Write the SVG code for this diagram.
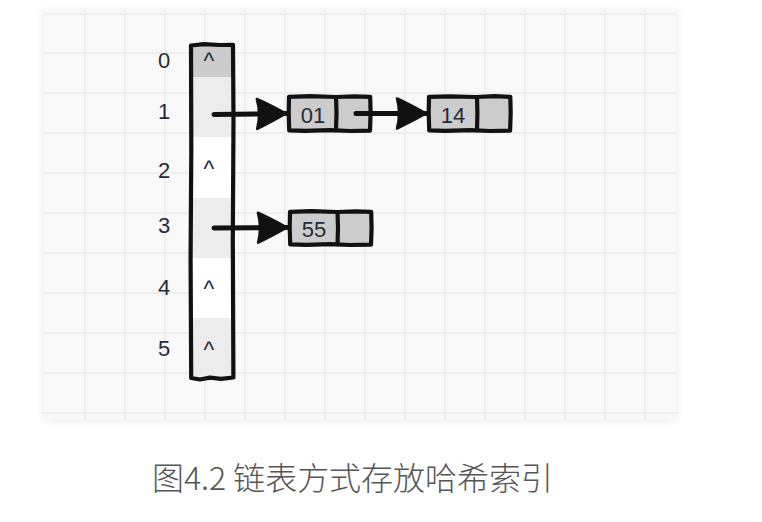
<svg xmlns="http://www.w3.org/2000/svg" width="762" height="522" viewBox="0 0 762 522">
  <style>
    .grid line { stroke: #eeeeee; stroke-width: 2.2; }
    .idx { font-family: "Liberation Sans", Arial, sans-serif; font-size: 22px; fill: #272a3a; text-anchor: middle; }
    .caret { font-family: "Liberation Sans", Arial, sans-serif; font-size: 23px; fill: #272a3a; text-anchor: middle; }
    .val { font-family: "Liberation Sans", Arial, sans-serif; font-size: 22px; fill: #272a3a; text-anchor: middle; }
    .sketch { fill: none; stroke: #111111; stroke-width: 4.2; stroke-linejoin: round; stroke-linecap: round; }
    .cell { fill: #cccccc; }
    .conn { fill: none; stroke: #111111; stroke-width: 5; stroke-linecap: round; }
    .caption { font-family: "Noto Sans CJK SC", "Noto Sans", sans-serif; font-size: 32px; font-weight: 300; fill: #555555; }
  </style>
  <defs>
    <filter id="shadow" x="-10%" y="-10%" width="120%" height="120%">
      <feDropShadow dx="0" dy="1" stdDeviation="5" flood-color="#000000" flood-opacity="0.09"/>
    </filter>
    <clipPath id="cardclip">
      <rect x="44" y="10" width="632" height="409" rx="4"/>
    </clipPath>
    <marker id="head" markerUnits="userSpaceOnUse" markerWidth="34" markerHeight="34" viewBox="0 0 34 34" refX="31" refY="17" orient="auto">
      <path d="M2,2 Q15,8 31,17 Q15,26 2,32 Q6,17 2,2 Z" fill="#111111" stroke="#111111" stroke-width="2.5" stroke-linejoin="round"/>
    </marker>
  </defs>

  <rect width="762" height="522" fill="#ffffff"/>

  <!-- card -->
  <g id="card">
    <rect x="44" y="10" width="632" height="409" rx="4" fill="#f9f9f9" filter="url(#shadow)"/>
    <g class="grid" clip-path="url(#cardclip)">
      <line x1="85" y1="10" x2="85" y2="419"/>
      <line x1="125" y1="10" x2="125" y2="419"/>
      <line x1="165" y1="10" x2="165" y2="419"/>
      <line x1="205" y1="10" x2="205" y2="419"/>
      <line x1="245" y1="10" x2="245" y2="419"/>
      <line x1="285" y1="10" x2="285" y2="419"/>
      <line x1="325" y1="10" x2="325" y2="419"/>
      <line x1="365" y1="10" x2="365" y2="419"/>
      <line x1="405" y1="10" x2="405" y2="419"/>
      <line x1="445" y1="10" x2="445" y2="419"/>
      <line x1="485" y1="10" x2="485" y2="419"/>
      <line x1="525" y1="10" x2="525" y2="419"/>
      <line x1="565" y1="10" x2="565" y2="419"/>
      <line x1="605" y1="10" x2="605" y2="419"/>
      <line x1="645" y1="10" x2="645" y2="419"/>
      <line x1="44" y1="14" x2="676" y2="14"/>
      <line x1="44" y1="53" x2="676" y2="53"/>
      <line x1="44" y1="93" x2="676" y2="93"/>
      <line x1="44" y1="133" x2="676" y2="133"/>
      <line x1="44" y1="173" x2="676" y2="173"/>
      <line x1="44" y1="213" x2="676" y2="213"/>
      <line x1="44" y1="253" x2="676" y2="253"/>
      <line x1="44" y1="293" x2="676" y2="293"/>
      <line x1="44" y1="333" x2="676" y2="333"/>
      <line x1="44" y1="373" x2="676" y2="373"/>
      <line x1="44" y1="413" x2="676" y2="413"/>
    </g>
  </g>

  <!-- bucket array -->
  <g id="bucket">
    <rect x="191" y="45" width="42" height="32" fill="#cbcbcb"/>
    <rect x="191" y="77" width="42" height="60" fill="#ececec"/>
    <rect x="191" y="137" width="42" height="61" fill="#ffffff"/>
    <rect x="191" y="198" width="42" height="60" fill="#ececec"/>
    <rect x="191" y="258" width="42" height="60" fill="#ffffff"/>
    <rect x="191" y="318" width="42" height="60" fill="#ececec"/>
    <path class="sketch" stroke-width="4.8" d="M191,45.5 L204,44.2 L220,45 L233,44.8 L233.5,120 L232.8,240 L233.4,377.5 L221,378.8 L210,377.6 L200,379.5 L191.2,378 L190.6,260 L191.3,150 Z"/>
    <text class="idx" x="164" y="68">0</text>
    <text class="idx" x="164" y="119">1</text>
    <text class="idx" x="164" y="178">2</text>
    <text class="idx" x="164" y="233">3</text>
    <text class="idx" x="164" y="295">4</text>
    <text class="idx" x="164" y="356">5</text>
    <text class="caret" x="209" y="69">^</text>
    <text class="caret" x="209" y="177">^</text>
    <text class="caret" x="209" y="297">^</text>
    <text class="caret" x="209" y="358">^</text>
  </g>

  <!-- nodes -->
  <g id="node-01">
    <rect class="cell" x="289" y="96.5" width="81" height="34"/>
    <path class="sketch" d="M289,96.8 L310,96.2 L336,97 L355,96.3 L370.2,96.8 L370.6,113 L370,130.6 L350,131 L330,130.2 L305,130.9 L289.2,130.4 L288.7,113 Z"/>
    <path class="sketch" stroke-width="3.4" d="M336,97 L336.5,113 L336,130.3"/>
    <text class="val" x="313" y="123">01</text>
  </g>
  <g id="node-14">
    <rect class="cell" x="429" y="96.5" width="81" height="34"/>
    <path class="sketch" d="M429,96.8 L450,96.3 L476,97 L495,96.2 L510.3,96.9 L510.7,113 L510.1,130.7 L490,131 L470,130.2 L445,130.8 L429.2,130.4 L428.7,113 Z"/>
    <path class="sketch" stroke-width="3.4" d="M477,97 L477.4,113 L477,130.3"/>
    <text class="val" x="453" y="123">14</text>
  </g>
  <g id="node-55">
    <rect class="cell" x="290" y="211.5" width="81" height="33"/>
    <path class="sketch" d="M290,211.8 L312,211.2 L337,212 L356,211.3 L371.2,211.8 L371.6,228 L371,244.6 L350,245 L330,244.2 L306,244.9 L290.2,244.4 L289.7,228 Z"/>
    <path class="sketch" stroke-width="3.4" d="M337.5,212 L338,228 L337.5,244.3"/>
    <text class="val" x="314" y="237">55</text>
  </g>

  <!-- connectors -->
  <g id="connectors">
    <path class="conn" d="M214,114.5 L286,113.5" marker-end="url(#head)"/>
    <path class="conn" d="M356,113.5 L426,113.5" marker-end="url(#head)"/>
    <path class="conn" d="M214,228 L287,227.5" marker-end="url(#head)"/>
  </g>

  <text class="caption" x="152" y="490" textLength="401" lengthAdjust="spacing">图4.2 链表方式存放哈希索引</text>
</svg>
